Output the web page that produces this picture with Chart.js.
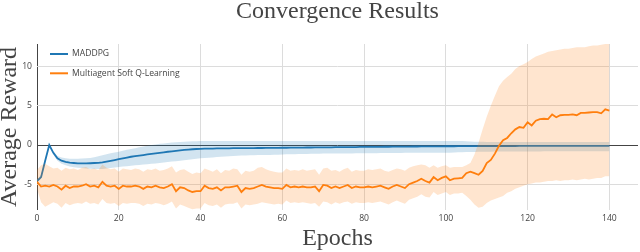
<!DOCTYPE html>
<html>
<head>
<meta charset="utf-8">
<script src="https://cdn.jsdelivr.net/npm/chart.js@4"></script>
<style>
  html, body { margin: 0; padding: 0; background: #fff; }
  #wrap { width: 640px; height: 252px; }
</style>
</head>
<body>
<div id="wrap"><canvas id="c" width="640" height="252"></canvas></div>
<script>
// ---------- data ----------
const epochs = Array.from({ length: 141 }, (_, i) => i);
const xTicks = [0, 20, 40, 60, 80, 100, 120, 140];
const yTicks = [-5, 0, 5, 10];
const seriesNames = ['MADDPG', 'Multiagent Soft Q-Learning'];

const maddpgMean = [
  -4.6,-4.1,-2.0,0.0,-1.0,-1.7,-2.0,-2.15,-2.25,-2.3,
  -2.35,-2.35,-2.35,-2.33,-2.3,-2.27,-2.22,-2.13,-2.03,-1.92,
  -1.8,-1.7,-1.6,-1.5,-1.42,-1.35,-1.28,-1.2,-1.13,-1.06,
  -1.0,-0.93,-0.86,-0.8,-0.74,-0.68,-0.63,-0.58,-0.54,-0.51,
  -0.49,-0.47,-0.46,-0.45,-0.44,-0.43,-0.42,-0.42,-0.41,-0.41,
  -0.4,-0.4,-0.39,-0.39,-0.38,-0.38,-0.37,-0.37,-0.36,-0.36,
  -0.35,-0.35,-0.34,-0.34,-0.33,-0.33,-0.32,-0.32,-0.31,-0.31,
  -0.3,-0.3,-0.29,-0.28,-0.28,-0.27,-0.27,-0.26,-0.26,-0.25,
  -0.25,-0.24,-0.24,-0.23,-0.23,-0.22,-0.22,-0.21,-0.21,-0.2,
  -0.2,-0.2,-0.19,-0.19,-0.18,-0.18,-0.18,-0.17,-0.17,-0.17,
  -0.16,-0.16,-0.16,-0.15,-0.15,-0.15,-0.15,-0.14,-0.14,-0.14,
  -0.14,-0.14,-0.13,-0.13,-0.13,-0.13,-0.13,-0.13,-0.12,-0.12,
  -0.12,-0.12,-0.12,-0.12,-0.12,-0.12,-0.12,-0.12,-0.12,-0.12,
  -0.12,-0.12,-0.12,-0.12,-0.12,-0.12,-0.12,-0.12,-0.12,-0.12,
  -0.12
];
const maddpgUpper = [
  -4.4,-3.8,-1.8,0.1,-0.8,-1.4,-1.6,-1.7,-1.75,-1.75,
  -1.75,-1.72,-1.7,-1.65,-1.55,-1.45,-1.3,-1.18,-1.05,-0.95,
  -0.85,-0.72,-0.6,-0.5,-0.4,-0.3,-0.2,-0.1,0.0,0.08,
  0.15,0.2,0.26,0.31,0.36,0.4,0.43,0.46,0.48,0.49,
  0.5,0.5,0.5,0.5,0.5,0.5,0.5,0.5,0.5,0.5,
  0.5,0.5,0.5,0.5,0.5,0.5,0.5,0.5,0.5,0.5,
  0.5,0.5,0.5,0.5,0.5,0.5,0.5,0.5,0.5,0.5,
  0.5,0.5,0.5,0.5,0.5,0.5,0.5,0.5,0.5,0.5,
  0.5,0.5,0.5,0.5,0.5,0.5,0.5,0.5,0.5,0.5,
  0.5,0.5,0.5,0.5,0.5,0.5,0.5,0.5,0.5,0.5,
  0.5,0.5,0.5,0.5,0.5,0.47,0.45,0.43,0.42,0.41,
  0.4,0.4,0.4,0.4,0.4,0.4,0.4,0.4,0.4,0.4,
  0.4,0.4,0.4,0.4,0.4,0.4,0.4,0.4,0.4,0.4,
  0.4,0.4,0.4,0.4,0.4,0.4,0.4,0.4,0.4,0.4,
  0.4
];
const maddpgLower = [
  -4.8,-4.3,-2.2,-0.1,-1.2,-2.0,-2.4,-2.6,-2.75,-2.85,
  -2.9,-2.95,-3.0,-3.03,-3.05,-3.05,-3.05,-3.0,-2.95,-2.88,
  -2.8,-2.75,-2.7,-2.65,-2.6,-2.55,-2.5,-2.45,-2.4,-2.35,
  -2.3,-2.24,-2.18,-2.12,-2.06,-2.0,-1.94,-1.88,-1.82,-1.76,
  -1.7,-1.66,-1.62,-1.58,-1.54,-1.5,-1.47,-1.44,-1.41,-1.38,
  -1.35,-1.33,-1.31,-1.3,-1.29,-1.28,-1.27,-1.26,-1.25,-1.24,
  -1.2,-1.19,-1.18,-1.17,-1.16,-1.15,-1.14,-1.13,-1.12,-1.11,
  -1.1,-1.1,-1.09,-1.09,-1.08,-1.08,-1.07,-1.07,-1.06,-1.06,
  -1.05,-1.05,-1.04,-1.04,-1.03,-1.03,-1.02,-1.02,-1.01,-1.01,
  -1.0,-1.0,-1.0,-1.0,-1.0,-1.0,-1.0,-1.0,-1.0,-1.0,
  -1.0,-0.98,-0.96,-0.94,-0.92,-0.9,-0.89,-0.88,-0.87,-0.86,
  -0.85,-0.85,-0.84,-0.84,-0.84,-0.83,-0.83,-0.83,-0.83,-0.82,
  -0.82,-0.82,-0.82,-0.82,-0.81,-0.81,-0.81,-0.81,-0.81,-0.81,
  -0.8,-0.8,-0.8,-0.8,-0.8,-0.8,-0.8,-0.8,-0.8,-0.8,
  -0.8
];

const msqlMean = [
  -4.7,-5.3,-5.2,-5.3,-5.1,-5.3,-5.7,-5.2,-5.5,-5.3,
  -5.3,-5.2,-5.0,-5.3,-5.2,-5.4,-4.7,-5.2,-5.3,-5.2,
  -5.6,-5.2,-5.3,-5.3,-5.2,-5.3,-5.6,-5.3,-5.4,-5.2,
  -5.4,-5.5,-5.3,-5.0,-5.9,-5.4,-5.5,-5.8,-6.0,-5.9,
  -5.9,-5.2,-5.5,-5.6,-5.4,-5.8,-5.4,-5.4,-5.3,-5.2,
  -6.0,-5.5,-5.6,-5.5,-5.3,-5.1,-5.3,-5.4,-5.5,-5.5,
  -5.6,-5.1,-5.4,-5.3,-5.4,-5.3,-5.4,-5.4,-5.3,-5.9,
  -5.1,-5.2,-5.5,-5.3,-5.5,-5.3,-5.1,-5.5,-5.3,-5.4,
  -5.4,-5.3,-5.4,-5.3,-5.2,-5.4,-5.6,-5.3,-5.1,-5.3,
  -5.5,-5.0,-4.8,-4.6,-4.3,-4.6,-4.8,-4.1,-4.5,-4.2,
  -4.0,-4.5,-4.3,-4.25,-4.2,-3.6,-3.4,-3.6,-3.8,-3.3,
  -2.3,-1.9,-1.1,-0.1,0.6,0.9,1.5,2.0,2.3,2.2,
  2.9,2.5,3.1,3.3,3.35,3.3,3.9,3.55,3.8,3.85,
  3.85,3.9,3.8,4.1,4.1,4.15,4.2,4.2,4.05,4.55,
  4.4
];
const msqlUpper = [
  -3.2,-2.6,-2.4,-2.7,-3.0,-2.9,-3.3,-2.9,-3.1,-3.0,
  -3.2,-2.9,-2.8,-3.1,-3.0,-3.2,-2.5,-2.9,-3.1,-3.0,
  -3.4,-3.0,-3.1,-3.2,-3.0,-3.1,-3.4,-3.1,-3.2,-3.0,
  -3.3,-3.2,-3.0,-2.7,-3.5,-3.2,-3.1,-3.4,-3.7,-3.5,
  -3.6,-3.0,-3.2,-3.4,-3.1,-3.6,-3.2,-3.3,-3.0,-3.1,
  -3.8,-3.3,-3.4,-3.3,-2.9,-2.8,-3.1,-3.3,-3.4,-3.5,
  -3.5,-3.0,-3.3,-3.2,-3.3,-3.1,-3.3,-3.2,-3.1,-3.8,
  -3.0,-2.9,-3.3,-3.2,-3.4,-3.1,-2.9,-3.4,-3.2,-3.3,
  -3.3,-3.1,-3.2,-3.1,-3.0,-3.3,-3.4,-3.2,-3.0,-3.1,
  -3.3,-2.9,-2.7,-2.6,-2.5,-2.6,-2.9,-2.6,-2.9,-2.7,
  -2.6,-2.9,-2.8,-2.8,-2.8,-2.6,-2.3,-1.2,0.3,2.0,
  3.6,5.0,6.3,7.5,8.2,8.7,9.1,9.7,10.1,10.3,
  10.6,11.0,11.3,11.5,11.7,11.9,12.0,12.1,12.2,12.3,
  12.3,12.4,12.5,12.5,12.5,12.6,12.7,12.7,12.8,12.9,
  12.9
];
const msqlLower = [
  -5.6,-7.3,-7.9,-7.6,-7.3,-7.5,-8.0,-7.4,-7.7,-7.5,
  -7.4,-7.5,-7.2,-7.5,-7.4,-7.6,-6.9,-7.4,-7.5,-7.4,
  -7.8,-7.4,-7.5,-7.4,-7.4,-7.5,-7.8,-7.5,-7.6,-7.4,
  -7.5,-7.7,-7.5,-7.2,-8.1,-7.6,-7.8,-8.0,-8.2,-8.1,
  -8.1,-7.4,-7.7,-7.8,-7.6,-8.0,-7.6,-7.5,-7.5,-7.3,
  -8.1,-7.6,-7.7,-7.6,-7.5,-7.3,-7.4,-7.5,-7.6,-7.5,
  -7.6,-7.1,-7.4,-7.3,-7.4,-7.3,-7.4,-7.5,-7.4,-7.9,
  -7.2,-7.3,-7.6,-7.3,-7.5,-7.3,-7.2,-7.5,-7.3,-7.4,
  -7.4,-7.3,-7.4,-7.3,-7.2,-7.4,-7.6,-7.3,-7.1,-7.3,
  -7.5,-7.0,-6.8,-6.6,-6.3,-6.6,-6.7,-6.0,-6.4,-6.2,
  -6.0,-6.4,-6.2,-6.2,-6.1,-6.5,-7.0,-7.6,-8.0,-7.9,
  -7.4,-7.1,-6.9,-6.7,-6.5,-6.1,-5.9,-5.6,-5.4,-5.2,
  -5.0,-4.9,-4.8,-4.8,-4.7,-4.6,-4.6,-4.5,-4.6,-4.5,
  -4.5,-4.4,-4.5,-4.4,-4.3,-4.4,-4.3,-4.2,-4.2,-4.0,
  -4.0
];

// ---------- styles ----------
const BLUE = '#1f77b4';
const ORANGE = '#ff7f0e';
const BLUE_FILL = 'rgba(31,119,180,0.2)';
const ORANGE_FILL = 'rgba(255,127,14,0.2)';
const TEXT = '#444';
const GRID = '#dcdcdc';
const ZERO = '#444';
const SERIF = '"Liberation Serif", "Times New Roman", serif';
const SANS = '"Open Sans", "Noto Sans", sans-serif';

const band = (data, fillTarget, color, order) => ({
  data, fill: fillTarget, backgroundColor: color, borderWidth: 0,
  borderColor: 'rgba(0,0,0,0)', pointRadius: 0, order, isBand: true
});

const legendPlugin = {
  id: 'inlineLegend',
  afterDraw(chart) {
    const { ctx, chartArea } = chart;
    const items = chart.data.datasets.filter(d => !d.isBand);
    ctx.save();
    ctx.font = '8.6px ' + SANS;
    ctx.textBaseline = 'middle';
    ctx.textAlign = 'left';
    items.forEach((d, i) => {
      const y = chartArea.top + 10 + i * 19.3;
      const x0 = chartArea.left + 13;
      ctx.strokeStyle = d.borderColor;
      ctx.lineWidth = 2;
      ctx.beginPath();
      ctx.moveTo(x0, y);
      ctx.lineTo(x0 + 18, y);
      ctx.stroke();
      ctx.fillStyle = TEXT;
      ctx.fillText(d.label, x0 + 22, y);
    });
    ctx.restore();
  }
};

new Chart(document.getElementById('c'), {
  type: 'line',
  data: {
    labels: epochs,
    datasets: [
      band(maddpgUpper, '+1', BLUE_FILL, 6),
      band(maddpgLower, false, BLUE_FILL, 5),
      { label: seriesNames[0], data: maddpgMean, borderColor: BLUE, borderWidth: 1.8,
        pointRadius: 0, fill: false, order: 4 },
      band(msqlUpper, '+1', ORANGE_FILL, 3),
      band(msqlLower, false, ORANGE_FILL, 2),
      { label: seriesNames[1], data: msqlMean, borderColor: ORANGE, borderWidth: 1.8,
        pointRadius: 0, fill: false, order: 1 }
    ]
  },
  plugins: [legendPlugin],
  options: {
    responsive: false,
    animation: false,
    devicePixelRatio: 1,
    layout: { padding: { left: 0, right: 2, top: 0, bottom: 0 } },
    plugins: { legend: { display: false }, tooltip: { enabled: false }, title: { display: false } },
    elements: { line: { tension: 0 } },
    scales: {
      x: {
        type: 'linear', min: 0, max: 147, position: 'bottom',
        afterBuildTicks: s => { s.ticks = xTicks.map(v => ({ value: v })); },
        afterFit: s => { s.height = 42; },
        ticks: { font: { family: SANS, size: 8.6 }, color: TEXT, padding: 3, maxRotation: 0, autoSkip: false },
        grid: { color: c => (c.tick && c.tick.value === 0 ? ZERO : GRID), drawTicks: false, lineWidth: 1 },
        border: { display: false },
        title: { display: true, text: 'Epochs', color: TEXT,
                 font: { family: SERIF, size: 24, lineHeight: 1 }, padding: { top: 0, bottom: 1 } }
      },
      top: {
        type: 'linear', min: 0, max: 1, position: 'top',
        afterFit: s => { s.height = 44; },
        ticks: { display: false },
        grid: { display: false, drawTicks: false },
        border: { display: false },
        title: { display: true, text: 'Convergence Results', color: TEXT,
                 font: { family: SERIF, size: 24, lineHeight: 1 }, padding: { top: 0, bottom: 0 } }
      },
      y: {
        type: 'linear', min: -8.3, max: 12.9, position: 'left',
        afterBuildTicks: s => { s.ticks = yTicks.map(v => ({ value: v })); },
        afterFit: s => { s.width = 37; },
        ticks: { font: { family: SANS, size: 8.6 }, color: TEXT, padding: 5 },
        grid: { color: c => (c.tick && c.tick.value === 0 ? ZERO : GRID), drawTicks: false, lineWidth: 1 },
        border: { display: false },
        title: { display: true, text: 'Average Reward', color: TEXT,
                 font: { family: SERIF, size: 24, lineHeight: 0.85 }, padding: { top: 0, bottom: 0 } }
      }
    }
  }
});
</script>
</body>
</html>
